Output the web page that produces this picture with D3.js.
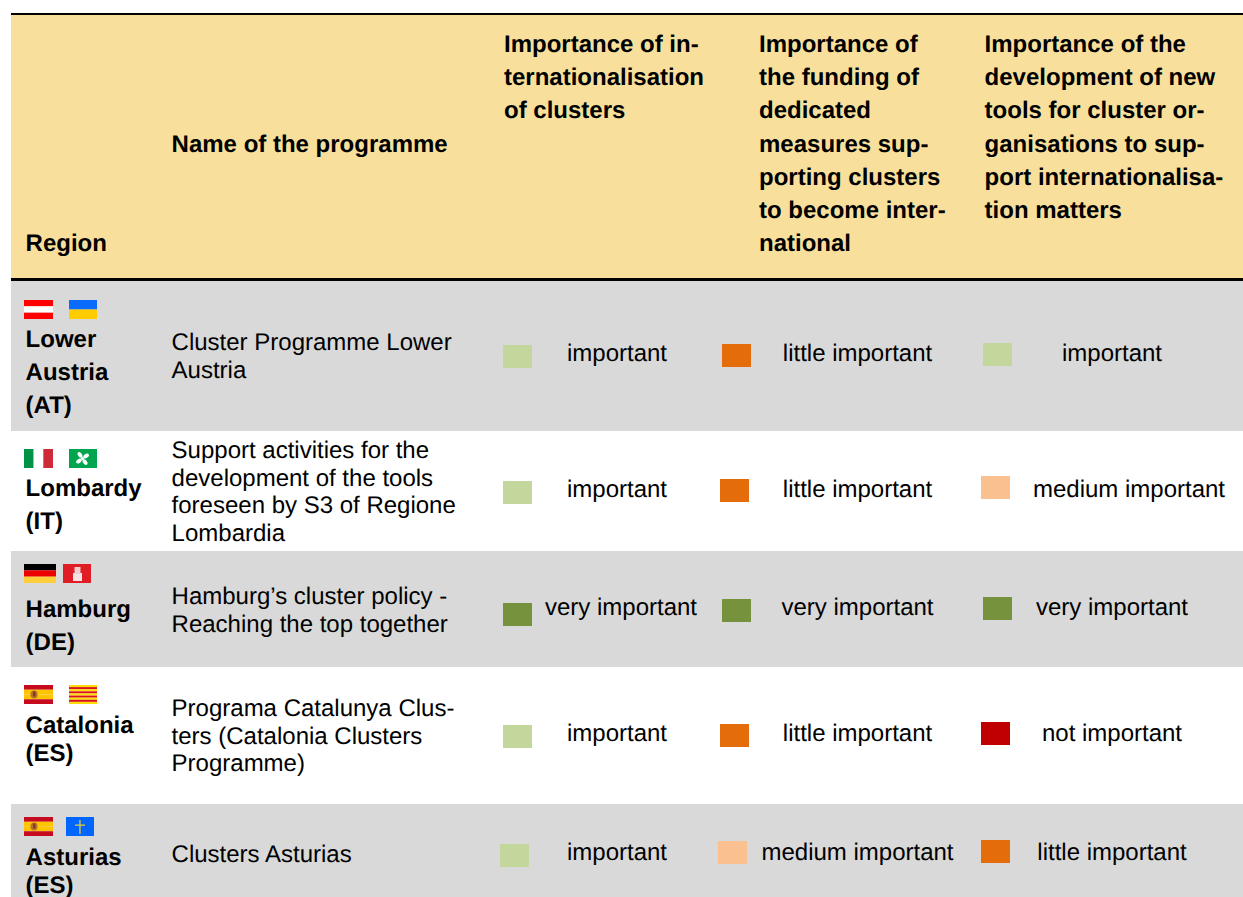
<!DOCTYPE html>
<html>
<head>
<meta charset="utf-8">
<script src="https://cdn.jsdelivr.net/npm/d3@7"></script>
<style>
  html, body { margin: 0; padding: 0; background: #fff; overflow: hidden; }
  svg { display: block; font-family: "Liberation Sans", Arial, sans-serif; text-rendering: geometricPrecision; }
</style>
</head>
<body>
<script>
// table content
var headers = [
  ["Region"],
  ["Name of the programme"],
  ["Importance of in-", "ternationalisation", "of clusters"],
  ["Importance of", "the funding of", "dedicated", "measures sup-", "porting clusters", "to become inter-", "national"],
  ["Importance of the", "development of new", "tools for cluster or-", "ganisations to sup-", "port internationalisa-", "tion matters"]
];
var regions = [
  ["Lower", "Austria", "(AT)"],
  ["Lombardy", "(IT)"],
  ["Hamburg", "(DE)"],
  ["Catalonia", "(ES)"],
  ["Asturias", "(ES)"]
];
var programmes = [
  ["Cluster Programme Lower", "Austria"],
  ["Support activities for the", "development of the tools", "foreseen by S3 of Regione", "Lombardia"],
  ["Hamburg\u2019s cluster policy -", "Reaching the top together"],
  ["Programa Catalunya Clus-", "ters (Catalonia Clusters", "Programme)"],
  ["Clusters Asturias"]
];
var internationalisation = ["important", "important", "very important", "important", "important"];
var funding = ["little important", "little important", "very important", "little important", "medium important"];
var tools = ["important", "medium important", "very important", "not important", "little important"];
var levels = ["very important", "important", "medium important", "little important", "not important"];

// flags: stripes top to bottom, or left to right for the Italian one
var flagNames = [["at", "ua"], ["it", "lombardy"], ["de", "hamburg"], ["es", "catalonia"], ["es", "asturias"]];
var flagStripes = {
  at: ["#ff0000", "#ffffff", "#ff0000"],
  ua: ["#0a6cff", "#ffcc00"],
  it: ["#009246", "#ffffff", "#ce2b37"],
  lombardy: ["#00a54f"],
  de: ["#000000", "#ee0000", "#ffce3a"],
  hamburg: ["#e01c24"],
  es: ["#c60b1e", "#ffc400", "#ffc400", "#c60b1e"],
  catalonia: ["#fcdd09", "#da121a", "#fcdd09", "#da121a", "#fcdd09", "#da121a", "#fcdd09", "#da121a", "#fcdd09"],
  asturias: ["#0066ff"]
};

// layout, kept apart from the content
var w = 1243, h = 897;
var rowEdges = [281, 431, 551, 667, 804, 897];
var rowFill = ["#d9d9d9", "#ffffff", "#d9d9d9", "#ffffff", "#d9d9d9"];
var headLine = 33.2, bodyLine = 27.5;
var regionFirst = [347, 496, 617, 733, 865], regionLine = [33.2, 33, 33, 28, 28];
var programmeFirst = [350, 458.2, 604, 716, 862];
var flagY = [300, 449, 564, 685, 817];
var flagX = [[24, 69], [24, 69], [24, 63], [24, 69], [24, 66]];
var flagW = [[29, 28], [29, 28], [32, 28], [29, 28], [29, 28]];
var swatchX = [[503, 722, 983], [503, 720, 981], [503, 722, 983], [503, 720, 981], [500, 718, 981]];
var swatchY = [[345, 344, 343], [481, 479, 476], [603, 599, 597], [725, 724, 722], [844, 841, 840]];
var labelX = [[617, 857.5, 1112], [617, 857.5, 1129], [621, 857.5, 1112], [617, 857.5, 1112], [617, 857.5, 1112]];
var labelY = [361, 497, 615, 741, 860];

var svg = d3.select("body").append("svg").attr("width", w).attr("height", h);

// the flags are small pictures in the original, so soften them a little
svg.append("defs").append("filter")
    .attr("id", "soft")
    .attr("x", "-5%").attr("y", "-5%").attr("width", "110%").attr("height", "110%")
  .append("feGaussianBlur")
    .attr("stdDeviation", 0.4);

var color = d3.scaleOrdinal()
  .domain(levels)
  .range(["#76923c", "#c3d69b", "#fac090", "#e46c0a", "#c00000"]);

var rowIndex = d3.range(regions.length);
var columns = [internationalisation, funding, tools];

// backgrounds
svg.append("rect").attr("x", 11).attr("y", 14).attr("width", w - 11).attr("height", 265).attr("fill", "#f8e09c");
svg.selectAll("rect.row")
  .data(rowIndex)
  .enter().append("rect")
    .attr("class", "row")
    .attr("x", 11)
    .attr("y", function(d) { return rowEdges[d]; })
    .attr("width", w - 11)
    .attr("height", function(d) { return rowEdges[d + 1] - rowEdges[d]; })
    .attr("fill", function(d) { return rowFill[d]; });
svg.append("rect").attr("x", 11).attr("y", 13).attr("width", w - 11).attr("height", 2).attr("fill", "#000");
svg.append("rect").attr("x", 11).attr("y", 278).attr("width", w - 11).attr("height", 3).attr("fill", "#000");

// writes a block of lines from a first baseline
function lines(g, x, y, step, list, size, weight) {
  g.selectAll(null)
    .data(list)
    .enter().append("text")
      .attr("x", x)
      .attr("y", function(d, i) { return y + i * step; })
      .attr("font-size", size)
      .attr("font-weight", weight)
      .attr("fill", "#000")
      .text(function(d) { return d; });
}

// header
var headX = [25.6, 171.6, 504, 759, 984.6];
var headY = [251, 152, 52, 52, 52];
headers.forEach(function(d, i) {
  lines(svg.append("g"), headX[i], headY[i], headLine, d, 24, "bold");
});

// first two columns
rowIndex.forEach(function(i) {
  lines(svg.append("g"), 25.6, regionFirst[i], regionLine[i], regions[i], 24, "bold");
  lines(svg.append("g"), 171.6, programmeFirst[i], bodyLine, programmes[i], 24, "normal");
});

// flags
function drawFlag(name, x, y, fw, fh) {
  var g = svg.append("g").attr("transform", "translate(" + x + "," + y + ")");
  var stripes = flagStripes[name];
  var band = d3.scaleBand().domain(d3.range(stripes.length)).range([0, name == "it" ? fw : fh]);
  g.selectAll("rect")
    .data(stripes)
    .enter().append("rect")
      .attr("x", function(d, i) { return name == "it" ? band(i) : 0; })
      .attr("y", function(d, i) { return name == "it" ? 0 : band(i); })
      .attr("width", name == "it" ? band.bandwidth() : fw)
      .attr("height", name == "it" ? fh : band.bandwidth())
      .attr("fill", function(d) { return d; });
  var emblem = g.append("g").attr("filter", "url(#soft)");
  if (name == "es") {
    emblem.append("ellipse").attr("cx", 10).attr("cy", 9.5).attr("rx", 3.6).attr("ry", 4).attr("fill", "#b5742c");
    emblem.append("rect").attr("x", 9).attr("y", 6.5).attr("width", 2.5).attr("height", 5).attr("fill", "#8a3b24");
  }
  if (name == "lombardy") {
    // four lobes of the rosette, turned like a pinwheel
    [-35, 55, 145, 235].forEach(function(a) {
      emblem.append("ellipse")
        .attr("cx", 4.4).attr("cy", 0)
        .attr("rx", 3.1).attr("ry", 2)
        .attr("transform", "translate(" + (fw / 2 - 0.5) + "," + (fh / 2) + ") rotate(" + a + ")")
        .attr("fill", "#fff");
    });
    emblem.append("circle").attr("cx", fw / 2 - 0.5).attr("cy", fh / 2).attr("r", 1.6).attr("fill", "#fff");
  }
  if (name == "hamburg") {
    emblem.append("rect").attr("x", 10).attr("y", 9).attr("width", 9).attr("height", 8).attr("fill", "#f6e4e4");
    emblem.append("rect").attr("x", 11.5).attr("y", 3).attr("width", 6).attr("height", 7).attr("fill", "#efcfd0");
  }
  if (name == "asturias") {
    emblem.append("rect").attr("x", fw / 2 - 0.7).attr("y", 3).attr("width", 1.3).attr("height", 14).attr("fill", "#e8c840");
    emblem.append("rect").attr("x", fw / 2 - 5).attr("y", 7.5).attr("width", 10).attr("height", 1.3).attr("fill", "#e8c840");
  }
}
rowIndex.forEach(function(i) {
  flagNames[i].forEach(function(name, j) {
    drawFlag(name, flagX[i][j], flagY[i], flagW[i][j], 19);
  });
});

// rating cells
columns.forEach(function(col, c) {
  var g = svg.append("g").attr("class", "rating");
  g.selectAll("rect")
    .data(col)
    .enter().append("rect")
      .attr("x", function(d, i) { return swatchX[i][c]; })
      .attr("y", function(d, i) { return swatchY[i][c]; })
      .attr("width", 29)
      .attr("height", 23)
      .attr("fill", function(d) { return color(d); });
  g.selectAll("text")
    .data(col)
    .enter().append("text")
      .attr("x", function(d, i) { return labelX[i][c]; })
      .attr("y", function(d, i) { return labelY[i]; })
      .attr("text-anchor", "middle")
      .attr("font-size", 24)
      .attr("fill", "#000")
      .text(function(d) { return d; });
});
</script>
</body>
</html>
